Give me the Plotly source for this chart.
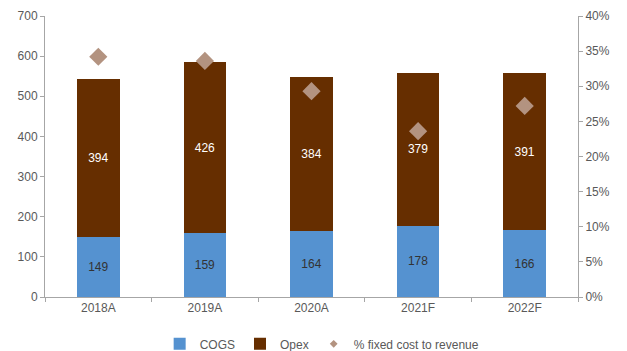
import plotly.graph_objects as go

years = ["2018A", "2019A", "2020A", "2021F", "2022F"]
cogs = [149, 159, 164, 178, 166]
opex = [394, 426, 384, 379, 391]
fixed_pct = [34.2, 33.6, 29.3, 23.6, 27.2]

left_ticks = [0, 100, 200, 300, 400, 500, 600, 700]
right_ticks = [0, 5, 10, 15, 20, 25, 30, 35, 40]
right_labels = [f"{v}%" for v in right_ticks]

axis_color = "#A6A6A6"
font_color = "#595959"
font_family = "Liberation Sans, Arial, sans-serif"
diamond_color = "#B39380"

fig = go.Figure()
fig.add_trace(go.Bar(
    x=years, y=cogs, name="COGS", marker_color="#5592D0",
    marker_line_width=0,
    text=[str(v) for v in cogs], textposition="inside", insidetextanchor="middle",
    textfont=dict(color="#333333", size=12, family=font_family),
    width=0.4,
))
fig.add_trace(go.Bar(
    x=years, y=opex, name="Opex", marker_color="#662E00",
    marker_line_width=0,
    text=[str(v) for v in opex], textposition="inside", insidetextanchor="middle",
    textfont=dict(color="#FFFFFF", size=12, family=font_family),
    width=0.4,
))
fig.add_trace(go.Scatter(
    x=years, y=fixed_pct, name="% fixed cost to revenue", mode="markers",
    marker=dict(symbol="diamond", size=14, color=diamond_color),
    yaxis="y2", showlegend=False, legendgroup="pct",
))
# legend entry with a small diamond, as in the reference
fig.add_trace(go.Scatter(
    x=[None], y=[None], name="% fixed cost to revenue", mode="markers",
    marker=dict(symbol="diamond", size=6, color=diamond_color),
    yaxis="y2", legendgroup="pct",
))

fig.update_layout(
    barmode="stack",
    width=627, height=351,
    margin=dict(l=45, r=49, t=16, b=54, autoexpand=False),
    paper_bgcolor="white", plot_bgcolor="white",
    font=dict(family=font_family, size=12, color=font_color),
    showlegend=True,
    legend=dict(orientation="h", x=0.52, xanchor="center", y=-0.115, yanchor="top",
                font=dict(size=12, color=font_color), itemwidth=30,
                tracegroupgap=0, traceorder="normal"),
    xaxis=dict(
        showline=True, linecolor=axis_color, linewidth=1,
        ticks="outside", tickson="boundaries", ticklen=4, tickcolor=axis_color,
        showgrid=False, tickfont=dict(size=12, color=font_color),
    ),
    yaxis=dict(
        range=[0, 700], tickvals=left_ticks, showline=True, linecolor=axis_color,
        ticks="outside", ticklen=4, tickcolor=axis_color, showgrid=False,
        zeroline=False, tickfont=dict(size=12, color=font_color),
    ),
    yaxis2=dict(
        range=[0, 40], tickvals=right_ticks, ticktext=right_labels, overlaying="y",
        side="right", showline=True, linecolor=axis_color, ticks="outside",
        ticklen=4, tickcolor=axis_color, showgrid=False, zeroline=False,
        tickfont=dict(size=12, color=font_color),
    ),
    bargap=0.6,
)

fig.write_html("out.html")
